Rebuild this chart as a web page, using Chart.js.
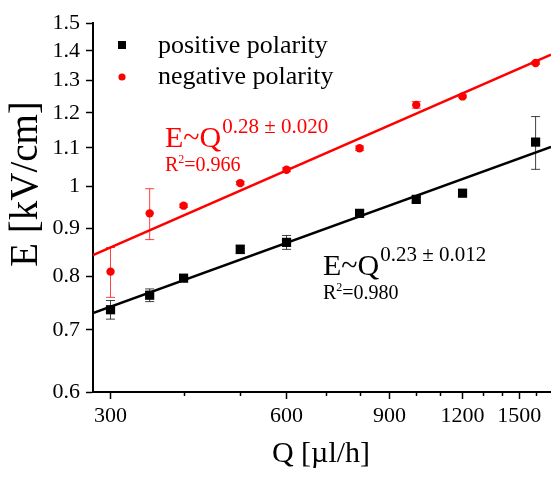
<!DOCTYPE html>
<html>
<head>
<meta charset="utf-8">
<script src="https://cdn.jsdelivr.net/npm/chart.js@4"></script>
<style>
  body { margin: 0; background: #fff; }
  #wrap { width: 551px; height: 480px; position: relative; }
</style>
</head>
<body>
<div id="wrap"><canvas id="myChart"></canvas></div>
<script>
const flowRates = [300, 350, 400, 500, 600, 800, 1000, 1200, 1600];
const positiveE = [0.736, 0.763, 0.796, 0.855, 0.870, 0.935, 0.968, 0.983, 1.116];
const positiveErr = [0.017, 0.012, 0.003, 0.009, 0.015, 0.006, 0.007, 0, 0.073];
const negativeE = [0.809, 0.935, 0.953, 1.008, 1.042, 1.099, 1.224, 1.250, 1.358];
const negativeErr = [0.050, 0.059, 0.004, 0.004, 0.005, 0.006, 0.010, 0.004, 0.004];
const fitQ = [280, 1700];
const positiveFit = [0.730, 1.103];
const negativeFit = [0.843, 1.387];
const xMajorTicks = [300, 600, 900, 1200, 1500];
const xMinorTicks = [400, 500, 700, 800, 1000, 1100, 1300, 1400, 1600];
const yTicks = [0.6, 0.7, 0.8, 0.9, 1, 1.1, 1.2, 1.3, 1.4, 1.5];

const serif = "'Liberation Serif', 'Times New Roman', serif";
const toPoints = (xs, ys) => xs.map((q, i) => ({x: q, y: ys[i]}));

// error bars, drawn under the markers
const errorBars = {
    id: 'errorBars',
    beforeDatasetsDraw(chart) {
        const {ctx, scales: {x, y}} = chart;
        const sets = [
            [positiveE, positiveErr, 'rgba(0,0,0,0.75)'],
            [negativeE, negativeErr, 'rgba(255,0,0,0.75)']
        ];
        ctx.save();
        ctx.lineWidth = 1;
        sets.forEach(([vals, errs, col]) => {
            ctx.strokeStyle = col;
            vals.forEach((v, i) => {
                if (!errs[i]) return;
                const px = x.getPixelForValue(flowRates[i]);
                const top = y.getPixelForValue(v + errs[i]);
                const bot = y.getPixelForValue(v - errs[i]);
                ctx.beginPath();
                ctx.moveTo(px, top); ctx.lineTo(px, bot);
                ctx.moveTo(px - 4.5, top); ctx.lineTo(px + 4.5, top);
                ctx.moveTo(px - 4.5, bot); ctx.lineTo(px + 4.5, bot);
                ctx.stroke();
            });
        });
        ctx.restore();
    }
};

function powerLabel(ctx, x, base, color, exponent, r2) {
    ctx.fillStyle = color;
    ctx.textAlign = 'left';
    ctx.textBaseline = 'alphabetic';
    ctx.font = '30px ' + serif;
    ctx.fillText('E~Q', x, base);
    const w = ctx.measureText('E~Q').width;
    ctx.font = '21px ' + serif;
    ctx.fillText(exponent, x + w + 1, base - 14);
    ctx.font = '20px ' + serif;
    ctx.fillText('R', x, base + 24);
    const rw = ctx.measureText('R').width;
    ctx.font = '12px ' + serif;
    ctx.fillText('2', x + rw, base + 16);
    const tw = ctx.measureText('2').width;
    ctx.font = '20px ' + serif;
    ctx.fillText('=' + r2, x + rw + tw, base + 24);
}

const decorations = {
    id: 'decorations',
    afterDraw(chart) {
        const {ctx, scales: {x}, chartArea} = chart;
        ctx.save();
        // minor x ticks
        ctx.strokeStyle = '#000';
        ctx.lineWidth = 1.5;
        xMinorTicks.forEach(v => {
            const px = Math.round(x.getPixelForValue(v)) + 0.5;
            ctx.beginPath();
            ctx.moveTo(px, chartArea.bottom);
            ctx.lineTo(px, chartArea.bottom + 4);
            ctx.stroke();
        });

        // legend
        ctx.fillStyle = '#000';
        ctx.fillRect(118, 41, 8, 8);
        ctx.fillStyle = '#ff0000';
        ctx.beginPath();
        ctx.arc(122, 77, 3.6, 0, Math.PI * 2);
        ctx.fill();
        ctx.fillStyle = '#000';
        ctx.font = '26px ' + serif;
        ctx.textAlign = 'left';
        ctx.textBaseline = 'alphabetic';
        ctx.fillText('positive polarity', 158, 53);
        ctx.fillText('negative polarity', 158, 84);

        // fit labels
        powerLabel(ctx, 165, 147, '#ff0000', '0.28 \u00b1 0.020', '0.966');
        powerLabel(ctx, 323, 275, '#000', '0.23 \u00b1 0.012', '0.980');

        // axis titles
        ctx.fillStyle = '#000';
        ctx.font = '30px ' + serif;
        ctx.textAlign = 'center';
        ctx.fillText('Q [\u00b5l/h]', 321, 462);
        ctx.save();
        ctx.translate(37, 184);
        ctx.rotate(-Math.PI / 2);
        ctx.font = '39px ' + serif;
        ctx.fillText('E [kV/cm]', 0, 0);
        ctx.restore();
        ctx.restore();
    }
};

const chartOne = document.getElementById('myChart');

new Chart(chartOne, {
    type: 'scatter',
    data: {
        datasets: [{
            label: 'positive polarity',
            data: toPoints(flowRates, positiveE),
            pointStyle: 'rect',
            pointRadius: 6.5,
            backgroundColor: '#000',
            borderColor: '#000',
            borderWidth: 0
        }, {
            label: 'negative polarity',
            data: toPoints(flowRates, negativeE),
            pointStyle: 'circle',
            pointRadius: 4.2,
            backgroundColor: '#ff0000',
            borderColor: '#ff0000',
            borderWidth: 0
        }, {
            label: 'positive fit',
            data: toPoints(fitQ, positiveFit),
            showLine: true,
            pointRadius: 0,
            borderColor: '#000',
            borderWidth: 2.5
        }, {
            label: 'negative fit',
            data: toPoints(fitQ, negativeFit),
            showLine: true,
            pointRadius: 0,
            borderColor: '#ff0000',
            borderWidth: 2.5
        }]
    },
    options: {
        responsive: true,
        maintainAspectRatio: false,
        animation: false,
        layout: { autoPadding: false, padding: { top: 23, right: 0, left: 0, bottom: 0 } },
        plugins: {
            legend: { display: false },
            tooltip: { enabled: false }
        },
        scales: {
            x: {
                type: 'logarithmic',
                min: 280,
                max: 1700,
                afterBuildTicks: s => { s.ticks = xMajorTicks.map(v => ({value: v})); },
                afterFit: s => { s.height = 88; s.paddingLeft = 0; s.paddingRight = 0; },
                border: { display: true, color: '#000', width: 2 },
                grid: { drawOnChartArea: false, drawTicks: true, tickLength: 7, tickWidth: 1.5, tickColor: '#000' },
                ticks: {
                    color: '#000',
                    padding: 4,
                    maxRotation: 0,
                    autoSkip: false,
                    font: { family: serif, size: 22 },
                    callback: v => String(v)
                }
            },
            y: {
                type: 'logarithmic',
                min: 0.6,
                max: 1.5,
                afterBuildTicks: s => { s.ticks = yTicks.map(v => ({value: v})); },
                afterFit: s => { s.width = 93; },
                border: { display: true, color: '#000', width: 2 },
                grid: { drawOnChartArea: false, drawTicks: true, tickLength: 7, tickWidth: 1.5, tickColor: '#000' },
                ticks: {
                    color: '#000',
                    padding: 6,
                    autoSkip: false,
                    font: { family: serif, size: 22 },
                    callback: v => String(Math.round(v * 10) / 10)
                }
            }
        }
    },
    plugins: [errorBars, decorations]
});
</script>
</body>
</html>
